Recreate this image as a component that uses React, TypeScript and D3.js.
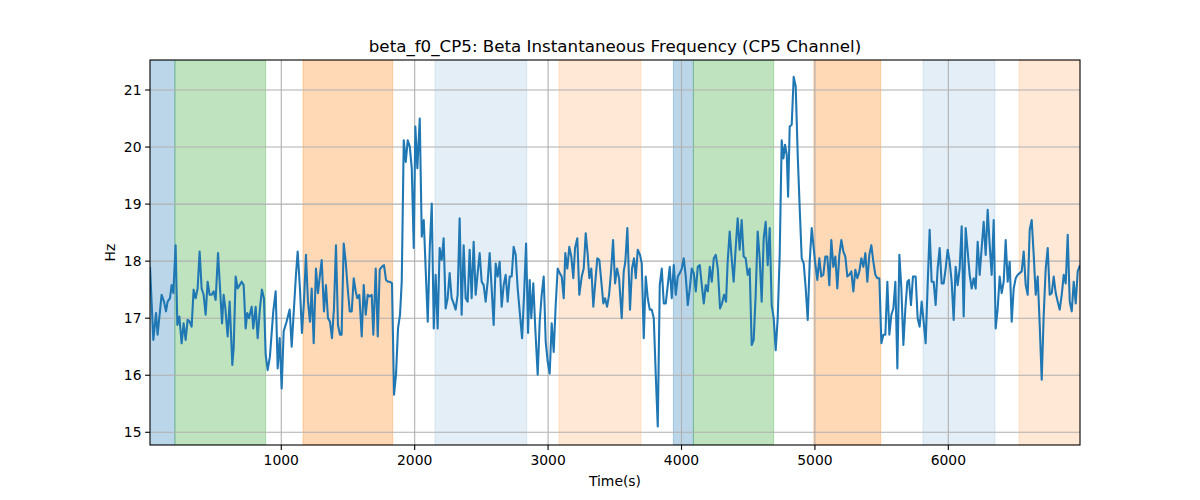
import React from "react";
import * as d3 from "d3";

const TITLE = "beta_f0_CP5: Beta Instantaneous Frequency (CP5 Channel)";
const X_LABEL = "Time(s)";
const Y_LABEL = "Hz";
const X_TICKS = [1000, 2000, 3000, 4000, 5000, 6000];
const Y_TICKS = [15, 16, 17, 18, 19, 20, 21];
const X_DOMAIN = [16, 6987];
const Y_DOMAIN = [14.777, 21.526];

// shaded intervals: [start, end, colour, alpha]
const SPAN_START = [0, 203, 1163, 2152, 3082, 3939, 4089, 4992, 5810, 6530];
const SPAN_END = [203, 883, 1835, 2840, 3696, 4089, 4691, 5493, 6350, 7100];
const SPAN_COLOR = ["#1f77b4", "#2ca02c", "#ff7f0e", "#1f77b4", "#ff7f0e", "#1f77b4", "#2ca02c", "#ff7f0e", "#1f77b4", "#ff7f0e"];
const SPAN_ALPHA = [0.3, 0.3, 0.3, 0.12, 0.17, 0.3, 0.3, 0.3, 0.12, 0.17];

const TIME = [
  16, 41, 61, 73, 103, 121, 136, 148, 166, 178, 191, 208, 221, 236, 253, 268, 283, 298, 313, 328,
  343, 358, 373, 388, 403, 418, 433, 448, 463, 478, 493, 508, 526, 541, 556, 568, 581, 598, 613, 628,
  633, 643, 658, 673, 688, 703, 718, 733, 745, 758, 778, 790, 808, 823, 840, 855, 870, 883, 898, 915,
  940, 958, 973, 988, 1003, 1018, 1040, 1063, 1078, 1095, 1110, 1123, 1140, 1155, 1170, 1185, 1200, 1215, 1228, 1243,
  1260, 1275, 1290, 1303, 1320, 1335, 1350, 1365, 1380, 1395, 1410, 1425, 1440, 1452, 1468, 1483, 1498, 1513, 1528, 1543,
  1558, 1570, 1585, 1603, 1618, 1633, 1648, 1660, 1678, 1690, 1708, 1723, 1738, 1753, 1770, 1785, 1800, 1815, 1830, 1845,
  1860, 1875, 1890, 1903, 1918, 1933, 1948, 1963, 1978, 1993, 2005, 2020, 2038, 2053, 2068, 2083, 2098, 2113, 2128, 2143,
  2157, 2172, 2187, 2202, 2217, 2232, 2247, 2262, 2277, 2292, 2307, 2322, 2337, 2352, 2367, 2382, 2397, 2412, 2427, 2442,
  2457, 2472, 2487, 2502, 2517, 2532, 2547, 2562, 2577, 2592, 2607, 2622, 2637, 2652, 2667, 2682, 2697, 2712, 2727, 2742,
  2757, 2772, 2787, 2805, 2820, 2835, 2850, 2862, 2874, 2889, 2904, 2922, 2937, 2952, 2967, 2982, 2997, 3012, 3027, 3042,
  3057, 3072, 3087, 3102, 3117, 3129, 3144, 3159, 3174, 3189, 3202, 3219, 3234, 3252, 3267, 3282, 3297, 3309, 3324, 3339,
  3354, 3369, 3384, 3399, 3414, 3427, 3442, 3457, 3472, 3487, 3502, 3517, 3532, 3552, 3567, 3579, 3594, 3614, 3629, 3644,
  3657, 3672, 3689, 3702, 3717, 3732, 3747, 3762, 3777, 3792, 3807, 3822, 3837, 3852, 3867, 3882, 3897, 3912, 3927, 3942,
  3957, 3972, 3987, 4002, 4017, 4032, 4047, 4062, 4077, 4092, 4107, 4122, 4137, 4152, 4167, 4182, 4197, 4212, 4227, 4242,
  4257, 4272, 4289, 4304, 4319, 4334, 4346, 4361, 4376, 4391, 4406, 4421, 4436, 4451, 4466, 4481, 4496, 4511, 4526, 4541,
  4556, 4571, 4586, 4601, 4616, 4631, 4646, 4661, 4676, 4691, 4706, 4721, 4736, 4751, 4764, 4776, 4789, 4799, 4811, 4826,
  4841, 4856, 4871, 4886, 4901, 4916, 4931, 4946, 4961, 4976, 4991, 5001, 5018, 5033, 5048, 5063, 5078, 5093, 5108, 5123,
  5138, 5153, 5168, 5183, 5198, 5213, 5228, 5243, 5258, 5273, 5288, 5303, 5318, 5333, 5348, 5363, 5378, 5393, 5408, 5423,
  5438, 5453, 5468, 5483, 5498, 5513, 5528, 5543, 5558, 5573, 5588, 5603, 5618, 5633, 5648, 5663, 5678, 5693, 5705, 5720,
  5735, 5755, 5770, 5785, 5800, 5815, 5830, 5845, 5860, 5875, 5890, 5905, 5920, 5935, 5950, 5965, 5980, 5995, 6010, 6025,
  6040, 6055, 6070, 6085, 6100, 6115, 6130, 6145, 6160, 6175, 6190, 6205, 6220, 6235, 6250, 6265, 6280, 6295, 6310, 6325,
  6340, 6355, 6370, 6385, 6400, 6415, 6430, 6445, 6460, 6475, 6490, 6505, 6520, 6535, 6550, 6565, 6580, 6595, 6610, 6625,
  6640, 6655, 6670, 6685, 6700, 6715, 6730, 6745, 6760, 6775, 6790, 6805, 6820, 6835, 6850, 6865, 6880, 6895, 6910, 6925,
  6940, 6955, 6970, 6987,
];

const FREQ = [
  17.9, 16.62, 17.09, 16.71, 17.41, 17.29, 17.12, 17.29, 17.35, 17.58, 17.44, 18.28, 16.88, 17.03, 16.56, 16.91, 16.62, 16.97, 16.94, 16.85,
  17.5, 17.35, 17.52, 18.17, 17.52, 17.41, 17.06, 17.64, 17.41, 17.41, 17.47, 17.32, 18.14, 17.52, 16.91, 17.41, 17.17, 16.68, 17.29, 16.47,
  16.18, 16.47, 17.73, 17.52, 17.58, 17.64, 17.58, 16.82, 17.09, 17.0, 17.2, 16.82, 17.2, 16.65, 17.17, 17.5, 17.35, 16.36, 16.09, 16.33,
  17.12, 17.47, 16.12, 16.65, 15.77, 16.77, 16.94, 17.15, 16.5, 17.17, 17.76, 18.17, 17.52, 16.74, 17.29, 18.11, 17.29, 16.94, 17.52, 16.56,
  17.87, 17.44, 17.76, 18.02, 17.12, 17.58, 17.0, 16.94, 16.65, 17.17, 18.28, 16.88, 16.71, 16.71, 18.31, 17.99, 17.52, 17.12, 17.12, 17.7,
  17.47, 17.35, 17.41, 16.68, 17.58, 17.06, 17.41, 17.38, 17.41, 16.71, 17.87, 16.68, 17.85, 17.9, 17.93, 17.67, 17.64, 17.64, 17.61, 15.66,
  16.01, 16.82, 17.06, 17.64, 20.12, 19.74, 20.12, 20.01, 19.63, 18.23, 20.36, 19.63, 20.5, 18.43, 18.72, 17.82, 16.94, 18.23, 19.01, 16.82,
  17.76, 16.82, 18.23, 18.02, 18.4, 17.17, 17.35, 17.79, 17.35, 17.26, 17.15, 17.41, 18.75, 17.06, 18.28, 17.35, 17.29, 18.2, 17.35, 18.34,
  17.41, 17.79, 18.14, 17.64, 17.58, 17.29, 17.64, 18.14, 17.52, 16.88, 17.96, 17.73, 17.99, 17.2, 17.58, 17.76, 17.29, 17.73, 17.73, 18.25,
  18.11, 17.52, 17.12, 16.65, 17.41, 18.31, 16.74, 17.67, 17.0, 17.61, 16.82, 16.01, 16.94, 17.41, 17.73, 16.59, 16.24, 16.03, 16.91, 16.41,
  17.23, 17.87, 17.79, 17.73, 17.35, 18.14, 17.87, 18.25, 18.08, 17.7, 18.23, 18.4, 17.41, 17.73, 17.87, 18.49, 18.11, 17.7, 17.87, 17.2,
  17.64, 18.05, 18.02, 17.64, 17.26, 17.35, 17.2, 17.41, 17.82, 18.37, 17.61, 17.87, 17.7, 17.0, 17.82, 17.99, 18.58, 17.15, 17.87, 18.05,
  17.7, 18.2, 18.11, 17.96, 16.65, 17.73, 17.35, 17.15, 17.15, 17.0, 16.01, 15.1, 17.58, 17.87, 17.26, 17.26, 17.58, 17.9, 17.35, 17.93,
  17.41, 17.73, 17.79, 17.87, 18.05, 17.73, 17.23, 17.52, 17.87, 17.79, 17.47, 17.9, 17.93, 17.58, 17.26, 17.58, 17.47, 17.9, 17.64, 18.05,
  18.11, 17.87, 17.17, 17.26, 17.41, 17.29, 17.99, 18.52, 18.05, 17.64, 18.23, 18.75, 18.2, 18.72, 18.08, 18.05, 17.76, 17.87, 16.53, 16.62,
  17.41, 18.52, 18.05, 17.29, 18.4, 18.69, 17.93, 18.58, 17.23, 17.0, 16.44, 17.0, 18.11, 20.12, 19.8, 20.04, 19.86, 19.13, 20.36, 20.39,
  21.23, 21.06, 19.86, 18.93, 18.05, 17.96, 17.52, 16.97, 17.99, 18.58, 18.23, 17.99, 17.67, 18.05, 17.73, 17.76, 18.08, 18.08, 17.58, 18.37,
  17.9, 18.08, 17.52, 18.11, 18.37, 18.17, 18.08, 17.73, 17.76, 17.82, 17.47, 17.85, 17.7, 17.82, 18.05, 17.9, 18.14, 17.64, 18.11, 18.28,
  17.99, 17.76, 17.7, 17.7, 16.56, 16.71, 16.71, 17.64, 16.71, 17.06, 17.17, 17.64, 16.12, 18.11, 17.52, 16.53, 17.17, 17.64, 17.67, 17.23,
  17.73, 17.73, 17.0, 16.85, 17.29, 16.94, 16.56, 17.58, 18.55, 17.64, 17.64, 17.23, 17.87, 18.23, 17.61, 17.61, 17.87, 18.2, 17.99, 17.64,
  16.97, 17.9, 17.58, 17.87, 18.61, 17.03, 18.58, 18.17, 17.76, 17.52, 17.7, 17.52, 18.34, 17.76, 18.23, 18.69, 18.11, 18.9, 18.28, 17.76,
  18.72, 16.82, 17.17, 17.73, 17.44, 17.64, 18.37, 17.64, 17.99, 16.94, 17.52, 17.7, 17.76, 17.79, 17.82, 18.17, 17.58, 17.41, 18.55, 18.72,
  18.11, 17.41, 17.73, 16.88, 15.92, 17.06, 17.87, 18.23, 17.41, 17.44, 17.73, 17.44, 17.29, 17.15, 17.41, 17.76, 17.61, 18.46, 17.29, 17.12,
  17.64, 17.26, 17.82, 17.93,
];

const W = 1200;
const H = 500;
const M = { left: 150, right: 1080, top: 60, bottom: 445 };
const FONT = "DejaVu Sans, sans-serif";
const GRID = "#b0b0b0";

export default function App() {
  const x = d3.scaleLinear().domain(X_DOMAIN).range([M.left, M.right]);
  const y = d3.scaleLinear().domain(Y_DOMAIN).range([M.bottom, M.top]);
  const pts: [number, number][] = TIME.map((t, i) => [t, FREQ[i]]);
  const line = d3
    .line<[number, number]>()
    .x((d) => x(d[0]))
    .y((d) => y(d[1]));

  return (
    <svg
      width={W}
      height={H}
      style={{ display: "block", background: "#fff", position: "absolute", left: 0, top: 0 }}
      fontFamily={FONT}
    >
      <defs>
        <clipPath id="plot">
          <rect x={M.left} y={M.top} width={M.right - M.left} height={M.bottom - M.top} />
        </clipPath>
      </defs>
      <rect x={0} y={0} width={W} height={H} fill="#fff" />
      <g clipPath="url(#plot)">
        {SPAN_START.map((s, i) => (
          <rect
            key={i}
            x={x(s)}
            y={M.top}
            width={x(SPAN_END[i]) - x(s)}
            height={M.bottom - M.top}
            fill={SPAN_COLOR[i]}
            fillOpacity={SPAN_ALPHA[i]}
            stroke={SPAN_COLOR[i]}
            strokeOpacity={SPAN_ALPHA[i]}
            strokeWidth={1}
          />
        ))}
        {X_TICKS.map((t) => (
          <line key={"gx" + t} x1={x(t)} x2={x(t)} y1={M.top} y2={M.bottom} stroke={GRID} strokeWidth={1.1} />
        ))}
        {Y_TICKS.map((t) => (
          <line key={"gy" + t} x1={M.left} x2={M.right} y1={y(t)} y2={y(t)} stroke={GRID} strokeWidth={1.1} />
        ))}
        <path d={line(pts) || ""} fill="none" stroke="#1f77b4" strokeWidth={2.08} strokeLinejoin="round" strokeLinecap="butt" />
      </g>
      <rect
        x={M.left}
        y={M.top}
        width={M.right - M.left}
        height={M.bottom - M.top}
        fill="none"
        stroke="#000"
        strokeWidth={1.1}
      />
      {X_TICKS.map((t) => (
        <g key={"xt" + t}>
          <line x1={x(t)} x2={x(t)} y1={M.bottom} y2={M.bottom + 4.9} stroke="#000" strokeWidth={1.1} />
          <text x={x(t)} y={M.bottom + 20} textAnchor="middle" fontSize={13.9} fill="#000">
            {t}
          </text>
        </g>
      ))}
      {Y_TICKS.map((t) => (
        <g key={"yt" + t}>
          <line x1={M.left - 4.9} x2={M.left} y1={y(t)} y2={y(t)} stroke="#000" strokeWidth={1.1} />
          <text x={M.left - 8.5} y={y(t) + 5} textAnchor="end" fontSize={13.9} fill="#000">
            {t}
          </text>
        </g>
      ))}
      <text x={(M.left + M.right) / 2} y={486} textAnchor="middle" fontSize={13.9} fill="#000">
        {X_LABEL}
      </text>
      <text
        transform={`translate(115, ${(M.top + M.bottom) / 2}) rotate(-90)`}
        textAnchor="middle"
        fontSize={13.9}
        fill="#000"
      >
        {Y_LABEL}
      </text>
      <text x={(M.left + M.right) / 2} y={52} textAnchor="middle" fontSize={16.7} fill="#000">
        {TITLE}
      </text>
    </svg>
  );
}
